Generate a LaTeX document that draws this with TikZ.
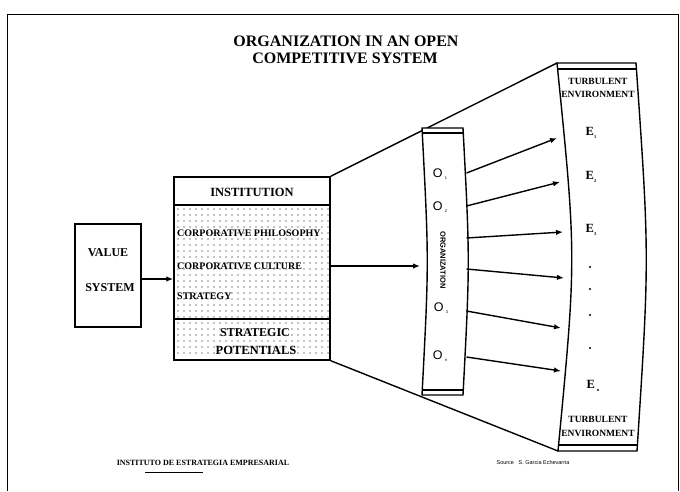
\documentclass[tikz,border=0pt]{standalone}
\usepackage{fontspec}
\setmainfont{Liberation Serif}
\newfontfamily\sansf{Liberation Sans}
\usetikzlibrary{arrows.meta}
\begin{document}
\begin{tikzpicture}[x=1pt,y=-1pt,
  line/.style={line width=1.4pt},
  arr/.style={line width=1.4pt,-{Latex[length=7pt,width=5.5pt]}},
  bf/.style={font=\bfseries\fontsize{#1}{#1}\selectfont, inner sep=0pt},
  sf/.style={font=\sansf\fontsize{#1}{#1}\selectfont, inner sep=0pt},
  dotc/.style={fill=black}]
\useasboundingbox (0,0) rectangle (680,491);
% frame
\draw[line width=1pt] (7,491) -- (7,14) -- (678,14) -- (678,491);
% title
\node[bf=16] (t1) at (346,41) {ORGANIZATION IN AN OPEN};
\node[bf=16] (t2) at (345,58) {COMPETITIVE SYSTEM};
% value system
\node[draw, line width=2.4pt, minimum width=66, minimum height=103, inner sep=0pt] (vs) at (108,275.5) {};
\node[bf=12] (vs1) at (108,253) {VALUE};
\node[bf=12] (vs2) at (110,288) {SYSTEM};
% institution
\foreach \x in {178,184,...,328} \foreach \y in {209,215,...,357} \fill[dotc] (\x,\y) circle (0.6);
\node[draw, line width=1.4pt, minimum width=156, minimum height=183, inner sep=0pt] (inst) at (252,268.5) {};
\fill[white] (174.7,177.7) rectangle (329.3,204.5);
\draw[line] (174,205) -- (330,205);
\draw[line] (174,319) -- (330,319);
\node[bf=12.5] (ititle) at (252,192) {INSTITUTION};
\node[bf=10, anchor=west] (cp) at (177,233) {CORPORATIVE PHILOSOPHY};
\node[bf=10, anchor=west] (cc) at (177,266) {CORPORATIVE CULTURE};
\node[bf=10, anchor=west] (st) at (177,296) {STRATEGY};
\node[bf=12] (sp1) at (255,333) {STRATEGIC};
\node[bf=12.5] (sp2) at (256,350) {POTENTIALS};
% perspective lines
\coordinate (eTL) at (557,63);
\coordinate (eTR) at (636,63);
\coordinate (eBR) at (637,451);
\coordinate (eBL) at (558,451);
\draw[line] (inst.north east) -- (eTL);
\draw[line] (inst.south east) -- (eBL);
% arrows value -> institution -> organization
\draw[arr] (vs.east |- 0,279) -- (inst.west |- 0,279);
\coordinate (oL) at (420,266);
\draw[arr] (inst.east |- 0,266) -- (oL);
% organization strip
\coordinate (oTL) at (422,128);
\coordinate (oTR) at (463,128);
\coordinate (oBR) at (463,395);
\coordinate (oBL) at (422,395);
\draw[line, fill=white] (oTL) -- (oTR) .. controls (470,261.5) .. (oBR) -- (oBL) .. controls (429,261.5) .. (oTL) -- cycle;
\draw[line] (422.3,133) -- (463.3,133);
\draw[line] (422.3,390) -- (463.3,390);
\node[sf=12.5] (o1) at (440,174) {O\,\raisebox{-2.5pt}{\fontsize{4}{4}\selectfont 1}};
\node[sf=12.5] (o2) at (440,207) {O\,\raisebox{-2.5pt}{\fontsize{4}{4}\selectfont 2}};
\node[sf=12.5] (o3) at (441,308) {O\,\raisebox{-2.5pt}{\fontsize{4}{4}\selectfont 3}};
\node[sf=12.5] (o4) at (440,356) {O\,\raisebox{-2.5pt}{\fontsize{4}{4}\selectfont n}};
\node[font=\sansf\bfseries\fontsize{7.5}{7.5}\selectfont, inner sep=0pt, rotate=-90] (orgl) at (443,260) {ORGANIZATION};
% environment strip
\draw[line, fill=white] (eTL) -- (eTR) .. controls (649.5,257) .. (eBR) -- (eBL) .. controls (576.5,257) .. (eTL) -- cycle;
\draw[line] (557.3,69) -- (636.4,69);
\draw[line] (558.3,445) -- (637.4,445);
\node[bf=9.5] (tu1) at (598,81) {TURBULENT};
\node[bf=9.5] (en1) at (598,94) {ENVIRONMENT};
\node[bf=12.5] (e1) at (591,133) {E\raisebox{-2.5pt}{\fontsize{4.5}{4.5}\selectfont 1}};
\node[bf=12.5] (e2) at (591,177) {E\raisebox{-2.5pt}{\fontsize{4.5}{4.5}\selectfont 2}};
\node[bf=12.5] (e3) at (591,230) {E\raisebox{-2.5pt}{\fontsize{4.5}{4.5}\selectfont 3}};
\foreach \yy [count=\i] in {267,289,315,348} \fill (590,\yy) circle (1.1) coordinate (d\i);
\node[bf=12.5] (en) at (593,386) {E\,\raisebox{-2.5pt}{\fontsize{4.5}{4.5}\selectfont n}};
\node[bf=9.5] (tu2) at (598,419) {TURBULENT};
\node[bf=9.5] (en2) at (598,433) {ENVIRONMENT};
% arrows organization -> environment
\foreach \sy/\ex/\ey [count=\i] in {173/557/138, 206/560/182, 238/563/232, 269/564/278, 311/561/328, 357/561/371} {
  \coordinate (os\i) at (466.5,\sy);
  \coordinate (et\i) at (\ex,\ey);
  \draw[arr] (os\i) -- (et\i);
}
% footer
\node[bf=8] (f1) at (203,463) {INSTITUTO DE ESTRATEGIA EMPRESARIAL};
\draw[line width=0.8pt] (145,472) -- (203,472);
\node[sf=5.5] (src) at (533,463) {Source\ \ \ S. Garcia Echevarria};
\end{tikzpicture}
\end{document}
